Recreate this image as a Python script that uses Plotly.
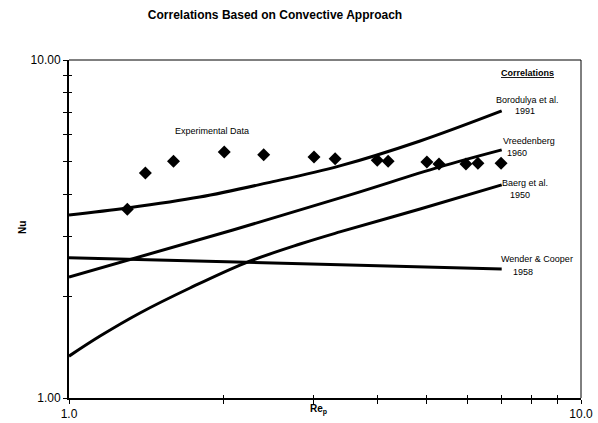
import plotly.graph_objects as go

# Experimental data (Re_p, Nu)
exp_re = [1.30, 1.41, 1.60, 2.01, 2.40, 3.01, 3.31, 4.00, 4.20, 5.00, 5.28, 5.96, 6.29, 6.98]
exp_nu = [3.62, 4.63, 5.02, 5.34, 5.24, 5.16, 5.10, 5.05, 5.02, 4.99, 4.92, 4.92, 4.95, 4.95]

# Correlation curves
boro_re = [1.00, 1.30, 1.80, 2.44, 3.38, 4.85, 7.00]
boro_nu = [3.48, 3.65, 3.93, 4.33, 4.86, 5.76, 7.07]

vree_re = [1.00, 2.09, 3.54, 5.28, 7.00]
vree_nu = [2.28, 3.14, 3.99, 4.82, 5.42]

baerg_re = [1.00, 1.15, 1.376, 1.723, 2.207, 2.827, 3.38, 4.85, 7.00]
baerg_nu = [1.33, 1.525, 1.785, 2.116, 2.508, 2.855, 3.10, 3.624, 4.27]

wend_re = [1.00, 7.00]
wend_nu = [2.60, 2.41]

x_ticks = [1, 10]
x_ticktext = ["1.0", "10.0"]
y_ticks = [1, 10]
y_ticktext = ["1.00", "10.00"]
minor_ticks = [2, 3, 4, 5, 6, 7, 8, 9]

FONT = "Liberation Sans, Arial, sans-serif"

fig = go.Figure()
for xs, ys in [(boro_re, boro_nu), (vree_re, vree_nu), (baerg_re, baerg_nu), (wend_re, wend_nu)]:
    fig.add_trace(go.Scatter(x=xs, y=ys, mode="lines",
                             line=dict(color="black", width=3, shape="spline", smoothing=1.0),
                             showlegend=False, hoverinfo="skip"))
fig.add_trace(go.Scatter(x=exp_re, y=exp_nu, mode="markers",
                         marker=dict(symbol="diamond", size=10, color="black"),
                         showlegend=False))
# invisible trace so the overlay axes (inside tick halves) are drawn
fig.add_trace(go.Scatter(x=[wend_re[0]], y=[wend_nu[0]], xaxis="x2", yaxis="y2", mode="markers",
                         marker=dict(opacity=0), showlegend=False, hoverinfo="skip"))

axis_common = dict(showgrid=False, zeroline=False, showline=True, linecolor="black", linewidth=2,
                   ticks="outside", ticklen=4, tickwidth=1, tickcolor="black", automargin=False,
                   tickfont=dict(family=FONT, size=12, color="black"))
fig.update_xaxes(type="log", range=[0, 1], tickvals=x_ticks, ticktext=x_ticktext,
                 minor=dict(tickvals=minor_ticks, ticks="outside", ticklen=4, tickcolor="black"),
                 **axis_common)
fig.update_yaxes(type="log", range=[0, 1], tickvals=y_ticks, ticktext=y_ticktext,
                 minor=dict(tickvals=minor_ticks, ticks="outside", ticklen=4, tickcolor="black"),
                 **axis_common)

inner = dict(type="log", range=[0, 1], showgrid=False, zeroline=False, showline=False,
             showticklabels=False, ticks="inside", ticklen=3, tickwidth=1, tickcolor="black",
             tickvals=x_ticks, automargin=False,
             minor=dict(tickvals=minor_ticks, ticks="inside", ticklen=3, tickcolor="black"))

# thin top/right frame
fig.add_shape(type="line", xref="paper", yref="paper", x0=0, x1=1, y0=1, y1=1, line=dict(color="black", width=1))
fig.add_shape(type="line", xref="paper", yref="paper", x0=1, x1=1, y0=0, y1=1, line=dict(color="black", width=1))

W0, W1 = 69, 581
H0, H1 = 60, 398
def px(x): return (x - W0) / (W1 - W0)
def py(y): return (H1 - y) / (H1 - H0)

ann = []
def add(text, x, y, size=9, angle=0):
    ann.append(dict(text=text, x=px(x), y=py(y), xref="paper", yref="paper", showarrow=False,
                    xanchor="center", yanchor="middle", textangle=angle,
                    font=dict(family=FONT, size=size, color="black")))

add("Experimental Data", 212, 131)
add("<b><u>Correlations</u></b>", 527, 73)
add("Borodulya et al.", 527, 100)
add("1991", 525, 111)
add("Vreedenberg", 529, 141)
add("1960", 517, 153)
add("Baerg et al.", 525, 183)
add("1950", 520, 195)
add("Wender & Cooper", 537, 259)
add("1958", 523, 272)
add("<b>Re<sub>p</sub></b>", 318, 409, size=10)
add("<b>Nu</b>", 22, 228, size=10, angle=-90)

fig.update_layout(
    width=598, height=423,
    margin=dict(l=W0, r=598 - W1, t=H0, b=423 - H1, autoexpand=False),
    paper_bgcolor="white", plot_bgcolor="white",
    xaxis2=dict(overlaying="x", anchor="y", side="bottom", **inner),
    yaxis2=dict(overlaying="y", anchor="x", side="left", **inner),
    title=dict(text="<b>Correlations Based on Convective Approach</b>", x=275 / 598, xanchor="center",
               y=1 - 15 / 423, yanchor="middle", font=dict(family=FONT, size=12, color="black")),
    annotations=ann,
)
fig.write_html("out.html")
